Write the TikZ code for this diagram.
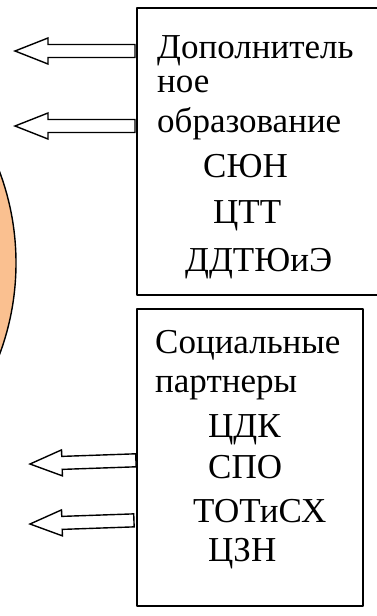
\documentclass[tikz,border=0pt]{standalone}
\usepackage{fontspec}
\setmainfont{Liberation Serif}
\definecolor{peach}{HTML}{FAC090}
\tikzset{
  boxline/.style={draw=black,line width=1.6pt},
  arrowline/.style={draw=black,line width=1.4pt,fill=white,line join=miter},
  word/.style={anchor=base west,inner sep=0pt,font=\fontsize{35}{40}\selectfont},
  pics/leftarrow/.style 2 args={code={
    \draw[arrowline] (0,0)--(#2,-13)--(#2,-6.5)--(#1,-6.5)--(#1,6.5)--(#2,6.5)--(#2,13)--cycle;
  }}
}
\begin{document}
\begin{tikzpicture}[x=1pt,y=-1pt,line join=round]
	\useasboundingbox (0,0) rectangle (376,616);
	\def\R{261} % radius of the circle
	% circle, mostly off the page
	\fill[peach,draw=black,line width=1.4pt] (-245,263) circle (\R);
	% boxes
	\draw[boxline] (390,8)--(137,8)--(137,295)--(390,295);
	\draw[boxline] (137,309) rectangle (363,606);
	% arrows into the circle
	\pic at (15,51) {leftarrow={120}{33}};
	\pic at (15,126) {leftarrow={120}{33}};
	\pic[rotate=2] at (30,464) {leftarrow={106}{32}};
	\pic[rotate=2] at (30,524) {leftarrow={104}{32}};
	% upper box text
	\node[word] (dop) at (157,58) {Дополнитель};
	\node[word] (noe) at (157,92) {ное};
	\node[word] (obr) at (157,132) {образование};
	\node[word] (syun) at (203,177) {СЮН};
	\node[word] (ctt) at (213,223) {ЦТТ};
	\node[word] (ddt) at (185,271) {ДДТЮиЭ};
	% lower box text
	\node[word] (soc) at (155,353) {Социальные};
	\node[word] (par) at (155,392) {партнеры};
	\node[word] (cdk) at (208,437) {ЦДК};
	\node[word] (spo) at (208,478) {СПО};
	\node[word] (tot) at (193,522) {ТОТиСХ};
	\node[word] (czn) at (208,561) {ЦЗН};
\end{tikzpicture}
\end{document}
